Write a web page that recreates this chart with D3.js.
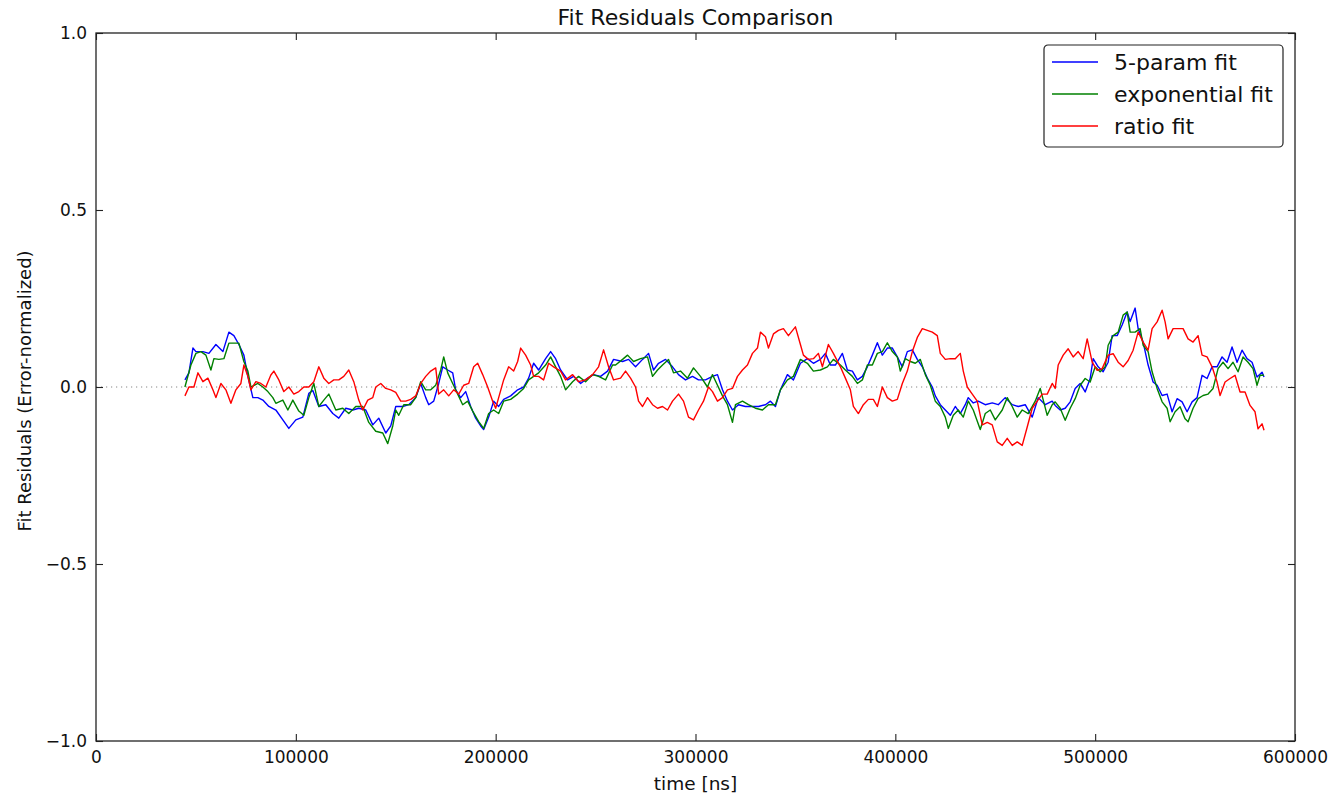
<!DOCTYPE html>
<html lang="en">
<head>
  <meta charset="UTF-8">
  <title>Fit Residuals Comparison</title>
  <script src="https://d3js.org/d3.v7.min.js"></script>
  <style>
    body { margin: 0; background: #fff; }
    svg { font-family: "DejaVu Sans", sans-serif; }
    .series { fill: none; stroke-width: 1.4; stroke-linejoin: round; }
    .frame { fill: none; stroke: #222; stroke-width: 1.3; }
  </style>
</head>
<body>
<script>
  // time [ns], residual
  const fiveParam = [
    [44500,0.02],[46500,0.04],[48500,0.11],[50000,0.10],[53500,0.10],[56500,0.095],[60000,0.12],[63500,0.10],
    [66500,0.155],[69000,0.145],[71500,0.12],[74000,0.09],[76000,0.03],[78500,-0.03],[81000,-0.03],[83500,-0.037],
    [86500,-0.055],[90000,-0.065],[93500,-0.093],[96500,-0.117],[100000,-0.093],[103500,-0.085],[106500,-0.018],
    [108500,-0.01],[111500,-0.055],[115000,-0.05],[118500,-0.075],[121500,-0.088],[125000,-0.06],[128500,-0.065],
    [131500,-0.06],[135000,-0.065],[138500,-0.107],[141500,-0.088],[145000,-0.13],[147500,-0.11],[150000,-0.055],
    [153500,-0.055],[156500,-0.05],[160000,-0.03],[162500,0.01],[165000,-0.03],[166500,-0.05],[169000,-0.04],
    [171500,0.01],[173500,0.057],[176000,0.048],[178500,0.04],[180000,-0.008],[182500,-0.03],[185000,-0.013],
    [187500,-0.055],[190000,-0.088],[192500,-0.11],[194000,-0.12],[196500,-0.085],[199000,-0.04],[201500,-0.055],
    [204000,-0.035],[207500,-0.025],[211000,-0.008],[214000,0],[216500,0.025],[219000,0.067],[221500,0.048],
    [225000,0.08],[227500,0.1],[230000,0.08],[232500,0.048],[236000,0.02],[239000,0.03],[242500,0.01],[246000,0.025],
    [249000,0.035],[252500,0.03],[256000,0.045],[259000,0.078],[263500,0.072],[266500,0.078],[270000,0.057],
    [273500,0.078],[276500,0.095],[279000,0.048],[281500,0.067],[285000,0.078],[288500,0.057],[291500,0.035],
    [295000,0.02],[298500,0.03],[301500,0.02],[305000,0.02],[308500,0.03],[311000,0.035],[313500,-0.008],
    [316000,-0.04],[318500,-0.065],[321500,-0.05],[325000,-0.055],[328500,-0.055],[331500,-0.055],[335000,-0.05],
    [337500,-0.04],[340000,-0.055],[342500,-0.008],[346000,0.035],[349000,0.02],[352500,0.067],[356000,0.08],
    [359000,0.067],[362500,0.078],[365000,0.095],[367500,0.062],[370000,0.062],[373500,0.095],[376000,0.048],
    [378500,0.045],[381000,0.02],[383500,0.03],[386000,0.057],[388500,0.09],[391000,0.125],[393500,0.09],
    [396000,0.11],[398500,0.11],[401000,0.085],[403500,0.057],[406000,0.1],[408500,0.105],[411000,0.078],
    [413500,0.057],[416000,0.025],[418500,0],[420000,-0.025],[422500,-0.05],[425000,-0.065],[427500,-0.08],
    [430000,-0.055],[432500,-0.075],[435000,-0.05],[436500,-0.03],[439000,-0.045],[441500,-0.04],[445000,-0.05],
    [448500,-0.045],[451500,-0.05],[455000,-0.03],[458500,-0.05],[461500,-0.055],[465000,-0.05],[468500,-0.085],
    [471500,-0.03],[475000,-0.05],[478500,-0.04],[480000,-0.052],[482500,-0.065],[485000,-0.06],[487500,-0.042],
    [490000,-0.004],[492500,0.01],[495000,-0.014],[497500,0.024],[499000,0.08],[501500,0.057],[504000,0.043],
    [506500,0.07],[508500,0.145],[511000,0.145],[513500,0.175],[516000,0.212],[517500,0.185],[520000,0.223],
    [521500,0.165],[524000,0.127],[526500,0.062],[529000,0.014],[531000,0.005],[533500,-0.024],[536000,-0.02],
    [538500,-0.07],[541000,-0.033],[543500,-0.042],[546000,-0.07],[548500,-0.042],[551000,-0.03],[553500,0.033],
    [556000,0.024],[558500,0.057],[561000,0.057],[563500,0.085],[566000,0.07],[568500,0.113],[571000,0.07],
    [573500,0.104],[576000,0.08],[578500,0.07],[581000,0.028],[583500,0.042],[584500,0.028]
  ];

  const exponential = [
    [44500,0],[47500,0.062],[50000,0.095],[52500,0.10],[55000,0.09],[57500,0.048],[59000,0.08],[61500,0.078],
    [64000,0.08],[66500,0.124],[69000,0.124],[71500,0.124],[74000,0.072],[76000,0.045],[77500,0],[81000,0.01],
    [83500,0],[86000,-0.013],[88500,-0.03],[90000,-0.046],[93500,-0.037],[96000,-0.065],[98500,-0.037],
    [101500,-0.068],[104000,-0.08],[106500,-0.03],[109000,0.01],[111500,-0.055],[114000,-0.037],[116500,-0.02],
    [120000,-0.065],[123500,-0.06],[126500,-0.075],[130000,-0.055],[133500,-0.055],[136500,-0.1],[140000,-0.125],
    [143500,-0.13],[146000,-0.16],[148500,-0.11],[150000,-0.065],[151500,-0.08],[154000,-0.05],[157500,-0.05],
    [160000,-0.03],[162500,0.015],[165000,-0.008],[167500,-0.008],[170000,0.005],[172500,0.048],[174000,0.085],
    [176000,0.04],[178500,0.01],[181000,-0.02],[183500,-0.05],[186000,-0.04],[188500,-0.068],[191500,-0.098],
    [194000,-0.117],[196500,-0.075],[199000,-0.065],[201500,-0.075],[204000,-0.04],[207500,-0.035],[211000,-0.02],
    [214000,-0.004],[216500,0.02],[219000,0.03],[221500,0.04],[225000,0.062],[227500,0.085],[230000,0.057],
    [232500,0.03],[235000,-0.008],[238500,0.015],[241500,0.03],[245000,0.015],[248500,0.035],[251500,0.03],
    [255000,0.02],[258500,0.062],[260000,0.062],[263500,0.078],[266000,0.09],[269000,0.072],[272500,0.08],
    [276000,0.085],[278500,0.03],[281000,0.048],[283500,0.062],[286500,0.078],[289000,0.04],[292500,0.045],
    [296000,0.025],[299000,0.054],[302500,0.03],[306000,0],[308500,0.035],[311000,0.005],[313500,-0.025],
    [316000,-0.05],[318500,-0.1],[320000,-0.05],[323500,-0.04],[326500,-0.05],[330000,-0.06],[333500,-0.065],
    [336500,-0.05],[340000,-0.05],[342500,-0.008],[346000,0.02],[349000,0.03],[352500,0.078],[356000,0.067],
    [359000,0.045],[362500,0.048],[366000,0.057],[369000,0.078],[372500,0.062],[375000,0.048],[378500,0.03],
    [381000,0.01],[383500,0.02],[386000,0.062],[388500,0.062],[391000,0.095],[393500,0.1],[396000,0.125],
    [398500,0.1],[401000,0.085],[402500,0.045],[405000,0.08],[407500,0.072],[410000,0.067],[412500,0.078],
    [415000,0.035],[417500,0.005],[420000,-0.04],[422500,-0.055],[425000,-0.085],[426500,-0.117],[429000,-0.08],
    [431500,-0.065],[434000,-0.085],[436500,-0.04],[439000,-0.065],[442500,-0.12],[445000,-0.075],[447500,-0.065],
    [450000,-0.093],[453500,-0.065],[456000,-0.03],[458500,-0.055],[461000,-0.085],[463500,-0.065],[466500,-0.075],
    [470000,-0.04],[472500,-0.004],[476000,-0.08],[478500,-0.05],[480000,-0.042],[482500,-0.06],[485000,-0.094],
    [487500,-0.06],[490000,-0.033],[492500,0.005],[495000,0.024],[497500,0.014],[500000,0.057],[502500,0.043],
    [505000,0.057],[506500,0.118],[509000,0.145],[511500,0.155],[514000,0.203],[516000,0.212],[517500,0.155],
    [520000,0.155],[522500,0.165],[524000,0.118],[526500,0.1],[528500,0.043],[531000,-0.004],[533500,-0.042],
    [536000,-0.06],[537500,-0.098],[540000,-0.07],[542500,-0.056],[545000,-0.09],[546500,-0.098],[549000,-0.06],
    [551500,-0.033],[554000,-0.024],[556500,-0.02],[559000,-0.004],[561500,0.052],[564000,0.07],[566500,0.052],
    [569000,0.07],[571500,0.043],[574000,0.085],[576500,0.07],[579000,0.052],[581000,0.005],[582500,0.033],
    [584500,0.033]
  ];

  const ratio = [
    [44500,-0.025],[46500,0],[49000,0],[51000,0.04],[53500,0.015],[56000,0.025],[58500,-0.008],[60000,-0.03],
    [62500,0.01],[65000,-0.008],[67500,-0.046],[70000,-0.008],[72500,0.01],[74000,0.062],[76000,0.03],
    [77500,-0.008],[80000,0.015],[82500,0.01],[85000,0],[87500,0.034],[89000,0.045],[91500,0.02],[94000,-0.013],
    [96500,0],[99000,-0.02],[101500,-0.013],[104000,0],[106500,0],[109000,0.015],[111500,0.057],[114000,0.025],
    [116500,0.01],[119000,0.02],[121500,0.02],[124000,0.03],[126500,0.048],[129000,0.015],[131500,-0.037],
    [133500,-0.065],[136000,-0.037],[138500,-0.03],[140000,0],[142500,0.01],[145000,-0.004],[147500,-0.008],
    [150000,-0.015],[152500,-0.04],[155000,-0.04],[157500,-0.035],[160000,-0.025],[162500,0.01],[165000,0.03],
    [167500,0.045],[170000,0.054],[171500,-0.02],[174000,-0.008],[176500,-0.025],[179000,-0.008],[181500,-0.02],
    [184000,0.005],[186500,0.01],[189000,0.057],[191000,0.067],[193500,0.035],[196000,0],[198500,-0.04],
    [200000,-0.06],[201500,-0.03],[204000,0.02],[206500,0.057],[209000,0.045],[211000,0.072],[212500,0.11],
    [215000,0.09],[217500,0.062],[219000,0.03],[221500,0.03],[224000,0.02],[226500,0.067],[229000,0.057],
    [232500,0.045],[235000,0.02],[238500,0.035],[241500,0.015],[245000,0.02],[248500,0.035],[251500,0.057],
    [254000,0.105],[256500,0.057],[259000,0.02],[262500,0.025],[265000,0.045],[267500,0.025],[270000,0],
    [271500,-0.04],[273500,-0.055],[276000,-0.03],[278500,-0.05],[281000,-0.06],[283500,-0.055],[286000,-0.065],
    [288500,-0.04],[291500,-0.02],[294000,-0.04],[296500,-0.085],[299000,-0.093],[301500,-0.065],[304000,-0.04],
    [306500,0],[308500,-0.013],[311000,-0.04],[313500,-0.03],[316000,-0.008],[318500,-0.004],[321000,0.03],
    [323500,0.048],[326000,0.062],[328500,0.095],[331000,0.11],[332500,0.155],[335000,0.142],[336500,0.11],
    [339000,0.15],[341500,0.16],[344000,0.165],[346500,0.145],[350000,0.17],[352500,0.12],[354000,0.09],
    [356500,0.078],[359000,0.08],[361500,0.095],[363500,0.057],[366500,0.12],[369000,0.095],[372500,0.057],
    [375000,0.025],[377500,-0.008],[379000,-0.055],[381500,-0.075],[384000,-0.05],[386500,-0.035],[389000,-0.035],
    [391000,-0.055],[393500,0],[396000,-0.03],[398500,-0.04],[401000,-0.035],[403500,0.01],[406000,0.045],
    [408500,0.1],[411000,0.14],[413500,0.165],[416000,0.16],[418500,0.155],[421000,0.145],[422500,0.095],
    [425000,0.078],[427500,0.08],[430000,0.08],[432500,0.095],[434000,0.045],[436000,0],[438500,-0.02],
    [441000,-0.04],[443500,-0.107],[446000,-0.1],[448500,-0.107],[451000,-0.155],[453500,-0.165],[456000,-0.145],
    [458500,-0.165],[461000,-0.155],[463500,-0.165],[466000,-0.113],[468500,-0.06],[471000,-0.04],[473500,-0.02],
    [476000,-0.02],[478500,0.01],[480000,-0.004],[481500,0.062],[484000,0.09],[486500,0.108],[489000,0.085],
    [491500,0.1],[494000,0.08],[496000,0.136],[498500,0.07],[501000,0.047],[503500,0.052],[506500,0.09],
    [509000,0.094],[511500,0.07],[514000,0.057],[516500,0.075],[519000,0.104],[521500,0.155],[524000,0.127],
    [526500,0.104],[528500,0.165],[531000,0.184],[533500,0.217],[535000,0.184],[536500,0.136],[539000,0.165],
    [541500,0.165],[544000,0.165],[546500,0.136],[549000,0.127],[551500,0.145],[553500,0.09],[556000,0.085],
    [558500,0.057],[561000,0.014],[562500,-0.024],[565000,0.014],[567500,0.024],[570000,0.033],[572500,-0.014],
    [575000,-0.014],[577500,-0.052],[580000,-0.07],[581500,-0.118],[583500,-0.104],[584500,-0.122]
  ];

  const seriesNames = ['5-param fit', 'exponential fit', 'ratio fit'];
  const seriesColors = ['#0000ff', '#008000', '#ff0000'];
  const xTicks = [0, 100000, 200000, 300000, 400000, 500000, 600000];
  const yTicks = [-1.0, -0.5, 0.0, 0.5, 1.0];

  const width = 1334, height = 797;
  const margin = {top: 33, right: 39, bottom: 56, left: 96};
  const iw = width - margin.left - margin.right;
  const ih = height - margin.top - margin.bottom;

  const svg = d3.select('body').append('svg')
    .attr('width', width)
    .attr('height', height);

  const g = svg.append('g').attr('transform', `translate(${margin.left},${margin.top})`);

  const x = d3.scaleLinear().domain([0, 600000]).range([0, iw]);
  const y = d3.scaleLinear().domain([-1, 1]).range([ih, 0]);

  // zero reference line
  g.append('line')
    .attr('x1', 0).attr('x2', iw)
    .attr('y1', y(0)).attr('y2', y(0))
    .attr('stroke', '#888')
    .attr('stroke-width', 1.2)
    .attr('stroke-dasharray', '1.2,3.8');

  const line = d3.line().x(d => x(d[0])).y(d => y(d[1]));
  [fiveParam, exponential, ratio].forEach((data, i) => {
    g.append('path')
      .datum(data)
      .attr('class', 'series')
      .attr('stroke', seriesColors[i])
      .attr('d', line);
  });

  // ticks inward on all four sides
  const tickLen = 7;
  const fmtY = d => d3.format('.1f')(d).replace('-', '\u2212');
  const axB = g.append('g').attr('transform', `translate(0,${ih})`)
    .call(d3.axisBottom(x).tickValues(xTicks).tickSizeInner(-tickLen).tickSizeOuter(0).tickPadding(9).tickFormat(d3.format('d')));
  const axT = g.append('g')
    .call(d3.axisTop(x).tickValues(xTicks).tickSizeInner(-tickLen).tickSizeOuter(0).tickFormat(''));
  const axL = g.append('g')
    .call(d3.axisLeft(y).tickValues(yTicks).tickSizeInner(-tickLen).tickSizeOuter(0).tickPadding(9).tickFormat(fmtY));
  const axR = g.append('g').attr('transform', `translate(${iw},0)`)
    .call(d3.axisRight(y).tickValues(yTicks).tickSizeInner(-tickLen).tickSizeOuter(0).tickFormat(''));

  [axB, axT, axL, axR].forEach(a => {
    a.select('.domain').remove();
    a.selectAll('line').attr('stroke', '#222').attr('stroke-width', 1.1);
    a.selectAll('text').attr('fill', '#111').style('font-size', '17px').style('font-family', '"DejaVu Sans", sans-serif');
  });
  axB.selectAll('text').attr('dy', '0.75em');

  g.append('rect').attr('class', 'frame')
    .attr('x', 0).attr('y', 0).attr('width', iw).attr('height', ih);

  // title and axis labels
  svg.append('text')
    .attr('x', margin.left + iw / 2).attr('y', 25)
    .attr('text-anchor', 'middle')
    .style('font-size', '22px')
    .attr('fill', '#111')
    .text('Fit Residuals Comparison');

  svg.append('text')
    .attr('x', margin.left + iw / 2).attr('y', 790)
    .attr('text-anchor', 'middle')
    .style('font-size', '18.5px')
    .attr('fill', '#111')
    .text('time [ns]');

  svg.append('text')
    .attr('transform', `translate(31,${margin.top + ih / 2 + 4}) rotate(-90)`)
    .attr('text-anchor', 'middle')
    .style('font-size', '18px')
    .attr('fill', '#111')
    .text('Fit Residuals (Error-normalized)');

  // legend
  const lg = svg.append('g').attr('transform', 'translate(1044,45)');
  lg.append('rect')
    .attr('width', 239).attr('height', 102)
    .attr('rx', 4).attr('ry', 4)
    .attr('fill', '#fff').attr('stroke', '#222').attr('stroke-width', 1.2);
  seriesNames.forEach((name, i) => {
    const yy = 17 + i * 32;
    lg.append('line')
      .attr('x1', 8).attr('x2', 54).attr('y1', yy).attr('y2', yy)
      .attr('stroke', seriesColors[i]).attr('stroke-width', 1.4);
    lg.append('text')
      .attr('x', 70).attr('y', yy).attr('dy', '0.35em')
      .style('font-size', '22px')
      .attr('fill', '#111')
      .text(name);
  });
</script>
</body>
</html>
